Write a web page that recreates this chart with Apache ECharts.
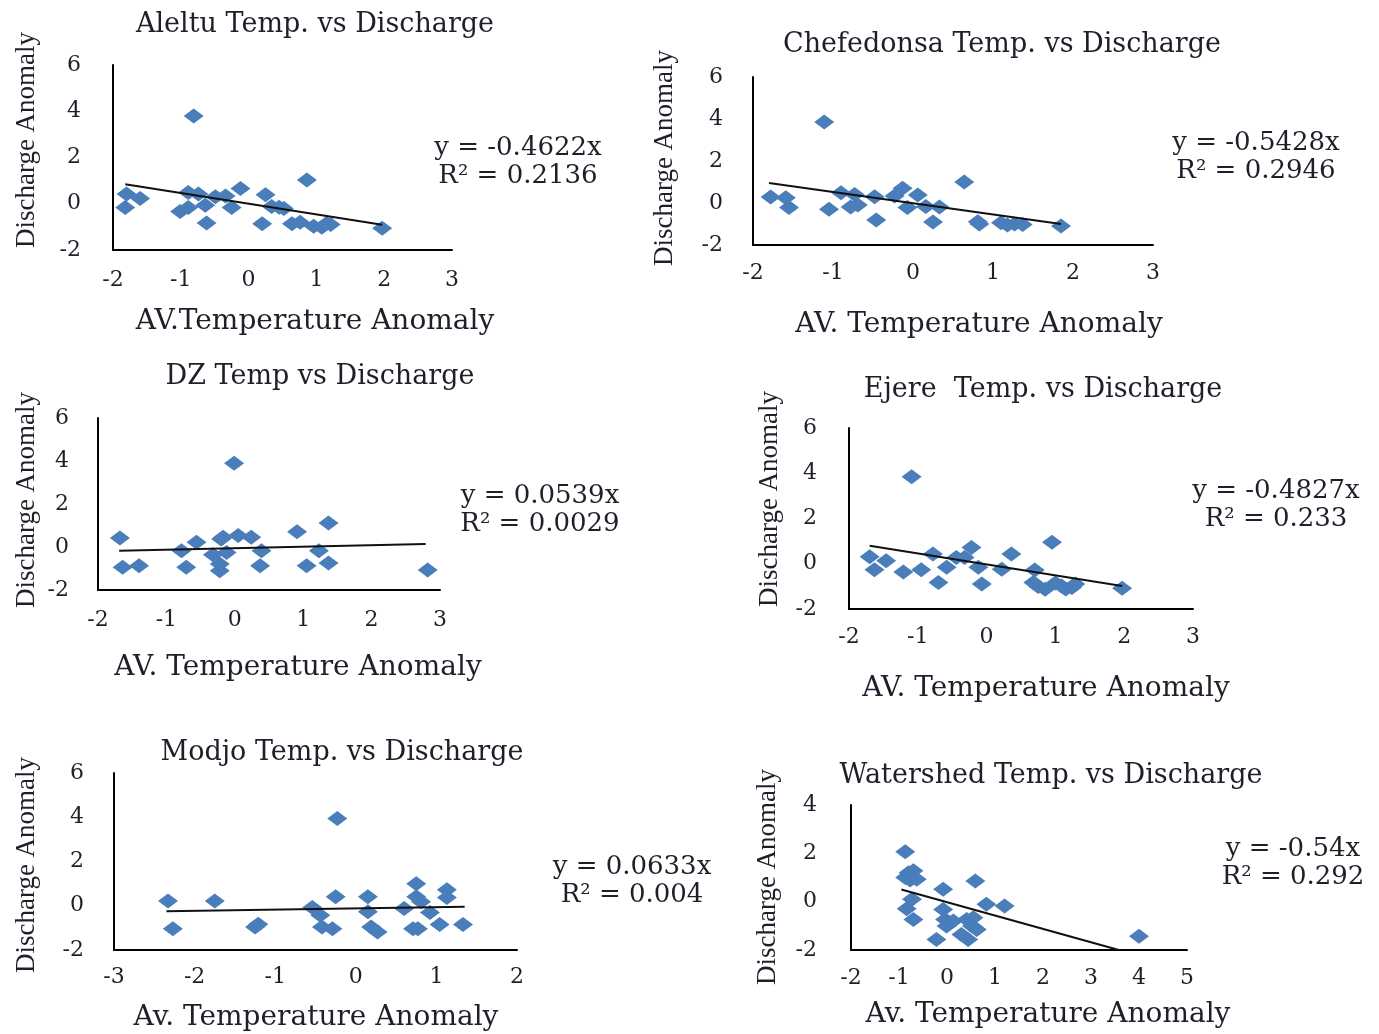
<!DOCTYPE html>
<html>
<head>
<meta charset="utf-8">
<script src="https://cdn.jsdelivr.net/npm/echarts@6/dist/echarts.min.js"></script>
<style>
html, body { margin: 0; padding: 0; background: #fff; }
#chart { width: 1379px; height: 1034px; }
</style>
</head>
<body>
<div id="chart"></div>
<script>
// temperature anomaly (x) / discharge anomaly (y)
var aleltuX = [-0.81, -1.80, -1.82, -1.60, -0.89, -0.74, -1.01, -0.89, -0.64, -0.49, -0.34, -0.12, -0.25, -0.62, 0.25, 0.34, 0.52, 0.45, 0.20, 0.86, 0.64, 0.76, 0.96, 1.08, 1.15, 1.21, 1.97];
var aleltuY = [3.80, 0.42, -0.16, 0.23, 0.49, 0.42, -0.33, -0.16, -0.06, 0.30, 0.34, 0.66, -0.16, -0.83, 0.39, -0.12, -0.20, -0.15, -0.87, 1.03, -0.87, -0.80, -0.97, -1.02, -0.85, -0.90, -1.06];
var aleltuTrend = [[-1.82, 0.84], [1.97, -0.91]];

var chefX = [-1.11, -1.78, -1.59, -1.55, -1.05, -0.90, -0.73, -0.78, -0.69, -0.48, -0.46, -0.23, -0.13, 0.06, -0.07, 0.16, 0.33, 0.25, 0.64, 0.81, 0.83, 1.10, 1.18, 1.27, 1.37, 1.85];
var chefY = [3.86, 0.29, 0.25, -0.22, -0.30, 0.49, 0.41, -0.19, -0.10, 0.30, -0.81, 0.33, 0.70, 0.38, -0.22, -0.17, -0.19, -0.90, 1.00, -0.89, -1.00, -0.94, -1.05, -1.00, -1.02, -1.10];
var chefTrend = [[-1.80, 0.95], [1.85, -1.00]];

var dzX = [-0.01, -1.68, -1.64, -1.40, -0.78, -0.71, -0.56, -0.32, -0.20, -0.17, -0.22, -0.22, -0.12, 0.05, 0.24, 0.39, 0.37, 0.91, 1.05, 1.23, 1.37, 1.37, 2.82];
var dzY = [3.89, 0.42, -0.94, -0.87, -0.17, -0.94, 0.22, -0.36, 0.37, 0.45, -0.79, -1.10, -0.25, 0.53, 0.45, -0.17, -0.87, 0.71, -0.87, -0.17, 1.12, -0.74, -1.07];
var dzTrend = [[-1.69, -0.17], [2.79, 0.14]];

var ejereX = [-1.09, -1.70, -1.63, -1.46, -1.21, -0.95, -0.78, -0.70, -0.58, -0.44, -0.32, -0.22, -0.12, -0.07, 0.22, 0.36, 0.70, 0.68, 0.75, 0.85, 0.95, 1.00, 1.09, 1.15, 1.24, 1.29, 1.97];
var ejereY = [3.84, 0.31, -0.27, 0.13, -0.36, -0.27, 0.43, -0.83, -0.16, 0.28, 0.28, 0.72, -0.16, -0.90, -0.24, 0.43, -0.28, -0.83, -1.00, -1.13, 0.95, -0.85, -0.98, -1.12, -1.05, -0.90, -1.08];
var ejereTrend = [[-1.70, 0.80], [1.97, -0.98]];

var modjoX = [-0.23, -2.33, -2.27, -1.75, -1.25, -1.21, -0.54, -0.44, -0.42, -0.29, -0.25, 0.15, 0.15, 0.19, 0.27, 0.60, 0.75, 0.75, 0.81, 0.71, 0.77, 0.92, 1.04, 1.13, 1.13, 1.33];
var modjoY = [3.94, 0.21, -1.04, 0.21, -0.96, -0.84, -0.08, -0.43, -0.96, -1.04, 0.41, 0.41, -0.27, -0.96, -1.19, -0.12, 0.99, 0.41, 0.18, -1.04, -1.04, -0.31, -0.85, 0.72, 0.37, -0.85];
var modjoTrend = [[-2.35, -0.25], [1.35, -0.05]];

var shedX = [-0.87, -0.70, -0.87, -0.63, -0.77, -0.80, 0.59, -0.08, -0.73, -0.84, -0.70, -0.08, -0.04, -0.01, 0.13, 0.82, 1.20, 0.41, 0.52, 0.30, 0.44, 0.62, -0.22, 4.00, 0.55];
var shedY = [2.07, 1.28, 1.00, 0.93, 0.90, 1.20, 0.86, 0.51, 0.10, -0.29, -0.74, -0.32, -0.74, -1.01, -0.80, -0.11, -0.18, -0.74, -1.01, -1.36, -1.57, -1.15, -1.57, -1.43, -0.67];
var shedTrend = [[-0.95, 0.50], [3.58, -2.00]];

var titles = ['Aleltu Temp. vs Discharge', 'Chefedonsa Temp. vs Discharge', 'DZ Temp vs Discharge',
              'Ejere  Temp. vs Discharge', 'Modjo Temp. vs Discharge', 'Watershed Temp. vs Discharge'];
var xNames = ['AV.Temperature Anomaly', 'AV. Temperature Anomaly', 'AV. Temperature Anomaly',
              'AV. Temperature Anomaly', 'Av. Temperature Anomaly', 'Av. Temperature Anomaly'];
var yName = 'Discharge Anomaly';
var equations = ['y = -0.4622x', 'y = -0.5428x', 'y = 0.0539x', 'y = -0.4827x', 'y = 0.0633x', 'y = -0.54x'];
var rSquared = ['R\u00b2 = 0.2136', 'R\u00b2 = 0.2946', 'R\u00b2 = 0.0029', 'R\u00b2 = 0.233', 'R\u00b2 = 0.004', 'R\u00b2 = 0.292'];
var xRanges = [[-2, 3], [-2, 3], [-2, 3], [-2, 3], [-3, 2], [-2, 5]];
var yRanges = [[-2, 6], [-2, 6], [-2, 6], [-2, 6], [-2, 6], [-2, 4]];

var xs = [aleltuX, chefX, dzX, ejereX, modjoX, shedX];
var ys = [aleltuY, chefY, dzY, ejereY, modjoY, shedY];
var trends = [aleltuTrend, chefTrend, dzTrend, ejereTrend, modjoTrend, shedTrend];

// layout of each small plot
var panels = [
  { grid: [113, 65, 339, 185], lx: 19, ly: 32, title: [315, 25], xn: [315, 322], yn: [27, 140], eq: [518, 148] },
  { grid: [753, 77, 400, 168], lx: 17, ly: 30, title: [1002, 45], xn: [979, 325], yn: [665, 158], eq: [1256, 143] },
  { grid: [98, 418, 342, 172], lx: 19, ly: 29, title: [320, 377], xn: [298, 668], yn: [27, 500], eq: [540, 496] },
  { grid: [849, 428, 344, 181], lx: 17, ly: 32, title: [1043, 390], xn: [1046, 689], yn: [770, 499], eq: [1276, 491] },
  { grid: [114, 773, 403, 177], lx: 16, ly: 30, title: [342, 753], xn: [316, 1018], yn: [27, 865], eq: [632, 867] },
  { grid: [851, 805, 336, 145], lx: 17, ly: 34, title: [1051, 776], xn: [1048, 1015], yn: [768, 877], eq: [1293, 849] }
];

var textColor = '#1f1f2b';
var serif = '"DejaVu Serif", "Liberation Serif", serif';

function txt(s, x, y, size, fam, rot) {
  return {
    type: 'text', x: x, y: y, rotation: rot || 0,
    style: {
      text: s, font: size + 'px ' + fam, fill: textColor,
      textAlign: 'center', textVerticalAlign: 'middle', align: 'center', verticalAlign: 'middle'
    }
  };
}

var grid = [], xAxis = [], yAxis = [], series = [], graphic = [];
panels.forEach(function (p, i) {
  grid.push({ left: p.grid[0], top: p.grid[1], width: p.grid[2], height: p.grid[3] });
  xAxis.push({
    gridIndex: i, type: 'value', min: xRanges[i][0], max: xRanges[i][1], interval: 1,
    axisLine: { show: true, onZero: false, lineStyle: { color: '#000', width: 2 } },
    axisTick: { show: false },
    splitLine: { show: false },
    axisLabel: { margin: p.lx, color: textColor, fontFamily: serif, fontSize: 22 }
  });
  yAxis.push({
    gridIndex: i, type: 'value', min: yRanges[i][0], max: yRanges[i][1], interval: 2,
    axisLine: { show: true, onZero: false, lineStyle: { color: '#000', width: 2 } },
    axisTick: { show: false },
    splitLine: { show: false },
    axisLabel: { margin: p.ly, color: textColor, fontFamily: serif, fontSize: 22 }
  });
  series.push({
    type: 'scatter', xAxisIndex: i, yAxisIndex: i,
    symbol: 'diamond', symbolSize: [20, 15],
    itemStyle: { color: '#4a7ebb', opacity: 1 },
    data: xs[i].map(function (v, k) { return [v, ys[i][k]]; })
  });
  series.push({
    type: 'line', xAxisIndex: i, yAxisIndex: i,
    symbol: 'none', silent: true,
    lineStyle: { color: '#111', width: 2 },
    data: trends[i]
  });
  graphic.push(txt(titles[i], p.title[0], p.title[1], 27, serif));
  graphic.push(txt(xNames[i], p.xn[0], p.xn[1], 28, serif));
  graphic.push(txt(yName, p.yn[0], p.yn[1], 27, '"Liberation Serif", serif', Math.PI / 2));
  graphic.push(txt(equations[i], p.eq[0], p.eq[1], 26, serif));
  graphic.push(txt(rSquared[i], p.eq[0], p.eq[1] + 28, 26, serif));
});

var myChart = echarts.init(document.getElementById('chart'));
myChart.setOption({
  backgroundColor: '#fff',
  animation: false,
  grid: grid,
  xAxis: xAxis,
  yAxis: yAxis,
  series: series,
  graphic: graphic
});
</script>
</body>
</html>
